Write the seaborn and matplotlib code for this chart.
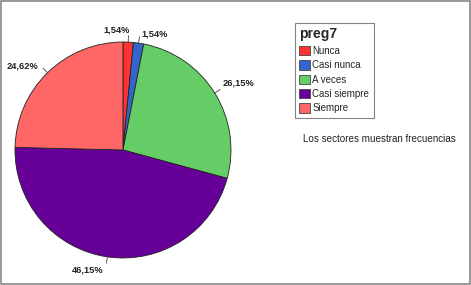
import numpy as np
import matplotlib
matplotlib.use("Agg")
import matplotlib.pyplot as plt
import seaborn as sns
from matplotlib.patches import Rectangle, Patch

categories = ["Nunca", "Casi nunca", "A veces", "Casi siempre", "Siempre"]
counts = [1, 1, 17, 30, 16]
pct_labels = ["1,54%", "1,54%", "26,15%", "46,15%", "24,62%"]
colors = ["#ff3333", "#3366cc", "#66cc66", "#660099", "#ff6666"]

sns.set_theme(style="white")
plt.rcParams['font.family'] = ['Liberation Sans', 'DejaVu Sans']

fig = plt.figure(figsize=(4.71, 2.85), dpi=100)
fig.patch.set_facecolor("white")
fig.patches.append(Rectangle((0.003, 0.005), 0.994, 0.99, transform=fig.transFigure,
                             fill=False, edgecolor="#888888", linewidth=1.2))

ax = fig.add_axes([0.0318, 0.0947, 0.4586, 0.758])
wedges, _ = ax.pie(counts, colors=colors, startangle=90, counterclock=False,
                   radius=1.0, wedgeprops=dict(edgecolor="#222222", linewidth=0.6))
ax.set_xlim(-1, 1)
ax.set_ylim(-1, 1)
ax.set_aspect("equal")
ax.axis("off")

offsets = [6, -7, 1, -9, 1]
dists = [1.11, 1.11, 1.14, 1.16, 1.11]
for w, lab, off, d in zip(wedges, pct_labels, offsets, dists):
    mid = np.deg2rad((w.theta1 + w.theta2) / 2)
    ang = np.deg2rad((w.theta1 + w.theta2) / 2 + off)
    ax.plot([np.cos(mid) * 1.0, np.cos(mid) * 1.06], [np.sin(mid) * 1.0, np.sin(mid) * 1.06],
            color="#444444", lw=0.6, clip_on=False)
    c, s = np.cos(ang), np.sin(ang)
    ha = "left" if c > 0.35 else ("right" if c < -0.35 else "center")
    ax.text(c * 1.1, s * d, lab, ha=ha, va="center", fontsize=6.7,
            fontweight="bold", color="#222222", clip_on=False)

handles = [Patch(facecolor=col, edgecolor="#444444", linewidth=0.6) for col in colors]
leg = fig.legend(handles, categories, title="preg7", loc="upper left",
                 bbox_to_anchor=(0.626, 0.919), borderaxespad=0.0,
                 fontsize=7, title_fontsize=10,
                 frameon=True, fancybox=False, edgecolor="#666666",
                 handlelength=1.1, handleheight=1.1, handletextpad=0.25,
                 labelspacing=0.45, borderpad=0.45, alignment="left")
leg.get_title().set_fontweight("bold")
leg.get_frame().set_linewidth(0.8)

fig.text(0.643, 0.513, "Los sectores muestran frecuencias", fontsize=7.1,
         color="#222222", ha="left", va="center")

fig.savefig("out.png", dpi=100, facecolor="white")
